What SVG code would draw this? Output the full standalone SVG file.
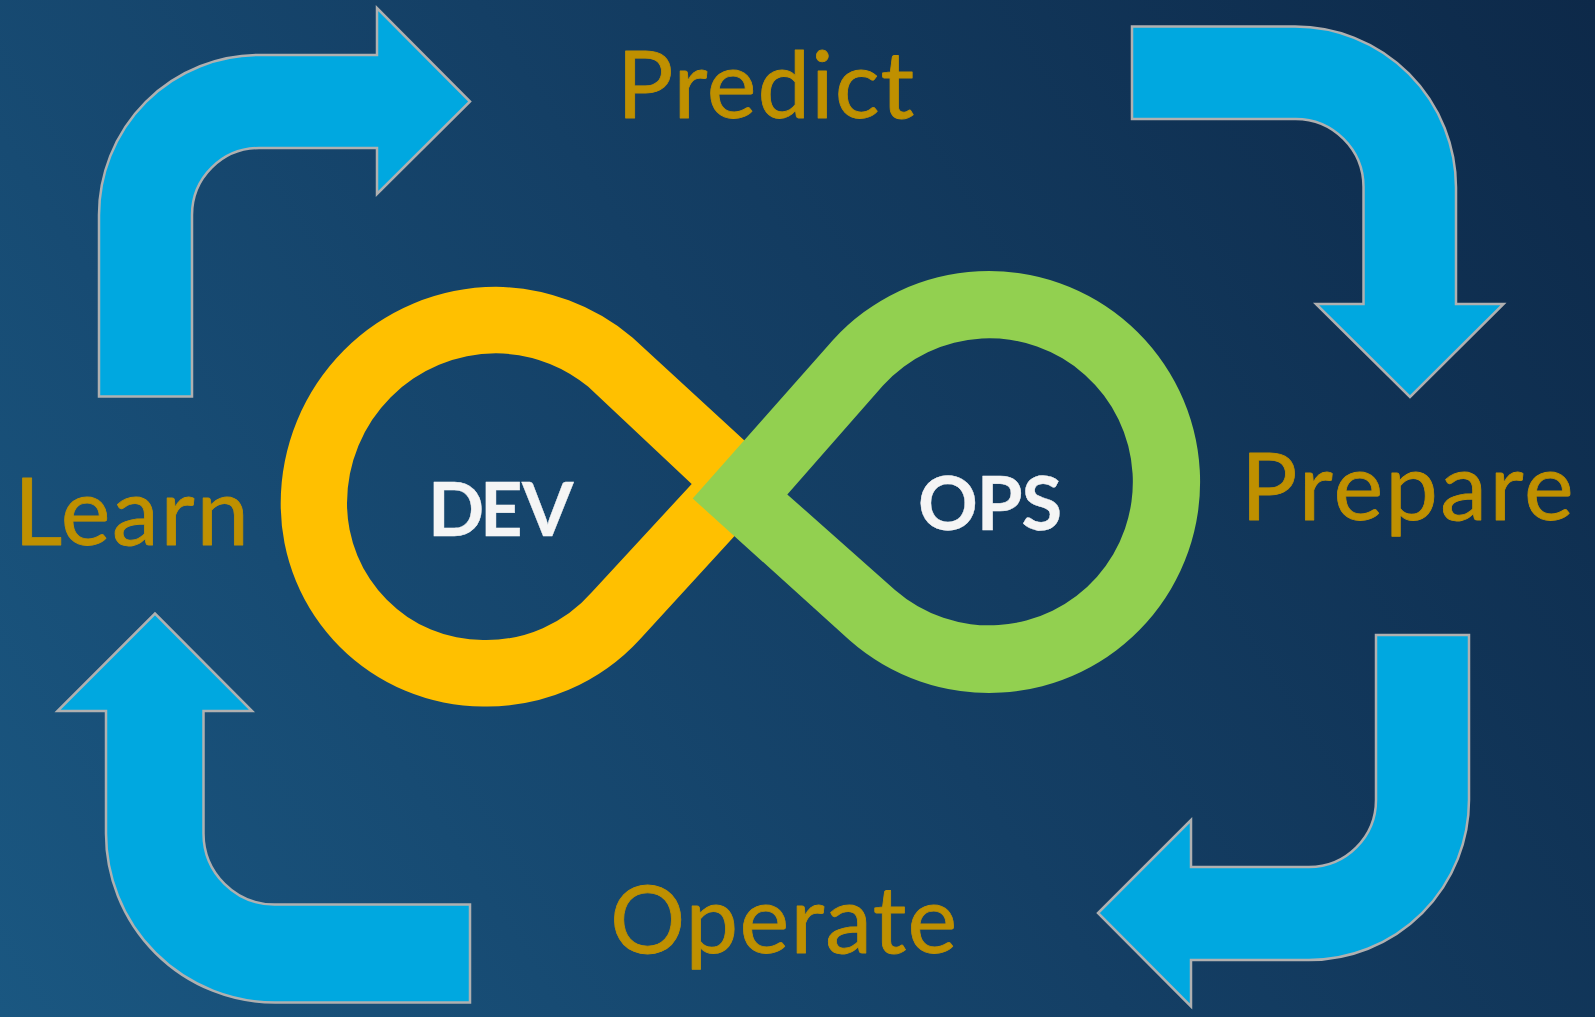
<svg xmlns="http://www.w3.org/2000/svg" width="1595" height="1017" viewBox="0 0 1595 1017">
<style>
.arrow{fill:#00a8e0;stroke:#b0b0b0;stroke-width:2.5}
.label{font-family:"Lato","Carlito","Liberation Sans",sans-serif;fill:#bf9000;stroke:#bf9000;stroke-width:.8;stroke-linejoin:round;font-size:94px}
.core{font-family:"Lato","Carlito","Liberation Sans",sans-serif;fill:#f5f5f5;stroke:#f5f5f5;stroke-width:.4;stroke-linejoin:round;font-weight:700;font-size:74px}
</style>
<defs>
<linearGradient id="bg" gradientUnits="userSpaceOnUse" x1="0" y1="1017" x2="1595" y2="0">
<stop offset="0" stop-color="#1a5781"/>
<stop offset="0.5" stop-color="#143f65"/>
<stop offset="1" stop-color="#0d2949"/>
</linearGradient>
</defs>
<rect id="background" width="1595" height="1017" fill="url(#bg)"/>
<g id="connectors">
<path class="arrow" d="M99 396.500V215A160 160 0 0 1 259 55H377V8L470 101.500L377 194V148H259A67 67 0 0 0 192 215V396.500Z"/>
<path class="arrow" d="M1132 26.500H1295A161 161 0 0 1 1456 187.500V304H1503.500L1410 397L1316 304H1363.500V187.500A68 68 0 0 0 1295 119H1132Z"/>
<path class="arrow" d="M1376 635H1469V800A160 160 0 0 1 1309 960H1191V1006.500L1098 913L1191 820V867H1309A67 67 0 0 0 1376 800Z"/>
<path class="arrow" d="M470 1002.500H275A169 169 0 0 1 106 833.500V711H57.500L155 613.500L252 711H203.500V833.500A71 71 0 0 0 275 904.500H470Z"/>
</g>
<g id="dev">
<path fill="#ffc000" fill-rule="evenodd" d="M770 464L632.700 337.700A216 216 0 0 0 496 286.800A216 216.700 0 0 0 280.700 503.500A203.300 202.500 0 0 0 483 706.500A207 207 0 0 0 640 639.300L762 506ZM691.700 484L588 386.500A150 150 0 0 0 496 353.300A149 150 0 0 0 347 503A136 137 0 0 0 483 640A140 140 0 0 0 592 592Z"/>
<text class="core" x="428 480 522" y="536">DEV</text>
</g>
<g id="ops">
<path fill="#92d050" fill-rule="evenodd" d="M692.700 498.500L833 340A211 211 0 1 1 849.300 640ZM787.300 494.400L895 590A143.500 143.500 0 1 0 883 385.500Z"/>
<text class="core" x="918" y="530" letter-spacing="-1">OPS</text>
</g>
<g id="predict"><text class="label" x="617" y="118" letter-spacing="1">Predict</text></g>
<g id="prepare"><text class="label" x="1241" y="520" letter-spacing="2.300">Prepare</text></g>
<g id="operate"><text class="label" x="610" y="953" letter-spacing="1.300">Operate</text></g>
<g id="learn"><text class="label" x="14" y="545" letter-spacing="1.800">Learn</text></g>
</svg>
